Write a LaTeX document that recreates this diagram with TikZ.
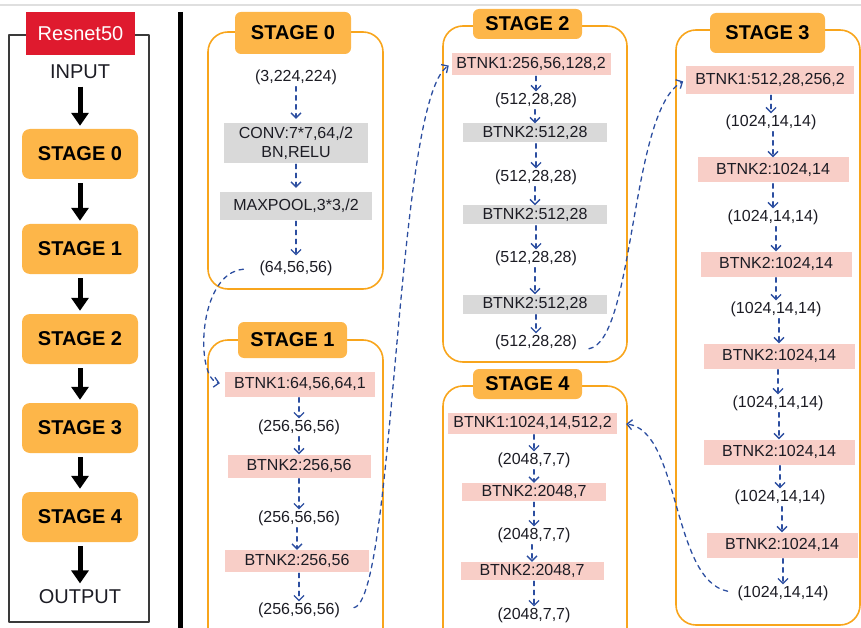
\documentclass[tikz,border=0pt]{standalone}
\usepackage{fontspec}
\setmainfont{Liberation Sans}
\usetikzlibrary{arrows.meta}
\definecolor{hdrorange}{HTML}{FDB649}
\definecolor{frameorange}{HTML}{F8A51C}
\definecolor{btnkpink}{HTML}{F8CEC7}
\definecolor{convgray}{HTML}{D9D9D9}
\definecolor{flowblue}{HTML}{2C4EA0}
\definecolor{resred}{HTML}{DF1A2E}
\definecolor{panelgray}{HTML}{3A3A3A}
\definecolor{txt}{HTML}{1C1C24}
\begin{document}
\begin{tikzpicture}[x=1pt,y=-1pt,line join=round,line cap=round,
		>={Straight Barb[length=5pt,width=10pt]},
		font=\fontsize{16}{19}\selectfont,text=txt]
		\tikzset{hdr/.style={fill=hdrorange,rounded corners=6pt,inner sep=0pt,text=black,font=\bfseries\fontsize{20}{24}\selectfont},
			frame/.style={draw=frameorange,line width=1.6pt,rounded corners=20pt},
			btnk/.style={fill=btnkpink,inner sep=0pt,minimum height=22pt},
			conv/.style={fill=convgray,inner sep=0pt,minimum height=20pt},
			dim/.style={inner sep=1pt},
			flow/.style={->,draw=flowblue,line width=1.3pt,dash pattern=on 4.5pt off 4.5pt,shorten <=1pt},
			bigarrow/.style={-{Triangle[length=13pt,width=17pt]},line width=5pt,line cap=butt,shorten <=4pt,shorten >=3pt}}
		\useasboundingbox (0,0) rectangle (861,628);
		\clip (0,0) rectangle (861,628);
		\draw[gray!25,line width=2pt] (0,5) -- (861,5);
		\draw[line width=5pt,line cap=butt] (180,12) -- (180,628);
		
		\draw[panelgray,line width=1.3pt] (9,35) rectangle (149,622);
		\node[fill=resred,text=white,minimum width=109pt,minimum height=43pt,font=\fontsize{20}{24}\selectfont] (title) at (80.5,33.5) {Resnet50};
		\node[font=\fontsize{20}{24}\selectfont] (in) at (80,72) {INPUT};
		\foreach \i/\y in {0/154,1/249,2/339,3/428,4/517}
		\node[hdr,rounded corners=8pt,minimum width=116pt,minimum height=50pt] (L\i) at (80,\y) {STAGE \i};
		\node[font=\fontsize{20}{24}\selectfont] (out) at (80,597) {OUTPUT};
		\foreach \a/\b in {in/L0,L0/L1,L1/L2,L2/L3,L3/L4,L4/out}
		\draw[bigarrow] (\a) -- (\b);
		
		\draw[frame] (208,32) rectangle (383,289);
		\node[hdr,minimum width=116pt,minimum height=42pt] (h0) at (293,33) {STAGE 0};
		\node[dim] (s0in) at (296,77) {(3,224,224)};
		\node[conv,minimum width=144pt,minimum height=40pt,align=center] (s0conv) at (296,143) {CONV:7*7,64,/2\\BN,RELU};
		\node[conv,minimum width=152pt,minimum height=28pt] (s0pool) at (296,206) {MAXPOOL,3*3,/2};
		\node[dim] (s0out) at (296,268) {(64,56,56)};
		\foreach \a/\b in {s0in/s0conv,s0conv/s0pool,s0pool/s0out}
		\draw[flow,shorten >=4pt] (\a.south -| \b) -- (\b);
		
		\draw[frame] (208,340) rectangle (383,680);
		\node[hdr,minimum width=109pt,minimum height=36pt] (h1) at (292.5,340) {STAGE 1};
		\node[btnk,minimum width=150pt,minimum height=25pt] (s1b1) at (300,384) {BTNK1:64,56,64,1};
		\node[dim] (s1d1) at (299,427) {(256,56,56)};
		\node[btnk,minimum width=143pt,minimum height=23pt] (s1b2) at (299,466) {BTNK2:256,56};
		\node[dim] (s1d2) at (299,518) {(256,56,56)};
		\node[btnk,minimum width=144pt] (s1b3) at (297,561) {BTNK2:256,56};
		\node[dim] (s1d3) at (299,610) {(256,56,56)};
		\foreach \a/\b in {s1b1/s1d1,s1d1/s1b2,s1b2/s1d2,s1d2/s1b3,s1b3/s1d3}
		\draw[flow] (\a.south -| \b) -- (\b);
		
		\draw[frame] (443,26) rectangle (627,362);
		\node[hdr,minimum width=109pt,minimum height=30pt] (h2) at (527.5,24) {STAGE 2};
		\node[btnk,minimum width=159pt] (s2b1) at (531,64) {BTNK1:256,56,128,2};
		\foreach \i/\yb/\yd in {1/0/100,2/133/177,3/215/258,4/304/342}{
			\ifnum\i>1
			\node[conv,minimum width=144pt,minimum height=19pt] (s2b\i) at (535,\yb) {BTNK2:512,28};
			\fi
			\node[dim] (s2d\i) at (536,\yd) {(512,28,28)};
		}
		\foreach \a/\b in {s2b1/s2d1,s2d1/s2b2,s2b2/s2d2,s2d2/s2b3,s2b3/s2d3,s2d3/s2b4,s2b4/s2d4}
		\draw[flow] (\a.south -| \b) -- (\b);
		
		\draw[frame] (676,30) rectangle (860,625);
		\node[hdr,minimum width=115pt,minimum height=40pt] (h3) at (767.5,33) {STAGE 3};
		\node[btnk,minimum width=168pt,minimum height=28pt] (s3b1) at (770,80) {BTNK1:512,28,256,2};
		\node[dim] (s3d1) at (771,122) {(1024,14,14)};
		\foreach \i/\xb/\yb/\xd/\yd in {2/773/170/773/217,3/776/264/776/309,4/779/356/778/403,5/779/452/780/497,6/782/545/783/593}{
			\node[btnk,minimum width=151pt,minimum height=25pt] (s3b\i) at (\xb,\yb) {BTNK2:1024,14};
			\node[dim] (s3d\i) at (\xd,\yd) {(1024,14,14)};
		}
		\draw[flow] (s3b1.south -| s3d1) -- (s3d1);
		\foreach \i [evaluate=\i as \p using int(\i-1)] in {2,...,6}{
			\draw[flow] (s3d\p.south -| s3b\i) -- (s3b\i);
			\draw[flow] (s3b\i.south -| s3d\i) -- (s3d\i);
		}
		
		\draw[frame] (443,386) rectangle (627,680);
		\node[hdr,minimum width=109pt,minimum height=30pt] (h4) at (527.5,384) {STAGE 4};
		\node[btnk,minimum width=169pt,minimum height=21pt] (s4b1) at (532.5,423) {BTNK1:1024,14,512,2};
		\node[dim] (s4d1) at (534,460) {(2048,7,7)};
		\node[btnk,minimum width=144pt,minimum height=18pt] (s4b2) at (534,492) {BTNK2:2048,7};
		\node[dim] (s4d2) at (534,535) {(2048,7,7)};
		\node[btnk,minimum width=143pt,minimum height=18pt] (s4b3) at (532,571) {BTNK2:2048,7};
		\node[dim] (s4d3) at (534,615) {(2048,7,7)};
		\foreach \a/\b in {s4b1/s4d1,s4d1/s4b2,s4b2/s4d2,s4d2/s4b3,s4b3/s4d3}
		\draw[flow] (\a.south -| \b) -- (\b);
		
		\draw[flow,shorten <=15pt,shorten >=5pt] (s0out.west) .. controls +(-61,5) and +(-30,-5) .. (s1b1.west);
		\draw[flow,shorten <=13pt,shorten >=3pt] (s1d3.east) .. controls +(54,-10) and +(-56,36) .. (s2b1.west);
		\draw[flow,shorten <=11pt,shorten >=3pt] (s2d4.south east) .. controls +(57,-10) and +(-56,30) .. (s3b1.west);
		\draw[flow,shorten <=9pt,shorten >=9pt] (s3d6.west) .. controls +(-65,-13) and +(63,7) .. (s4b1.east);
		
		\end{tikzpicture}
\end{document}
